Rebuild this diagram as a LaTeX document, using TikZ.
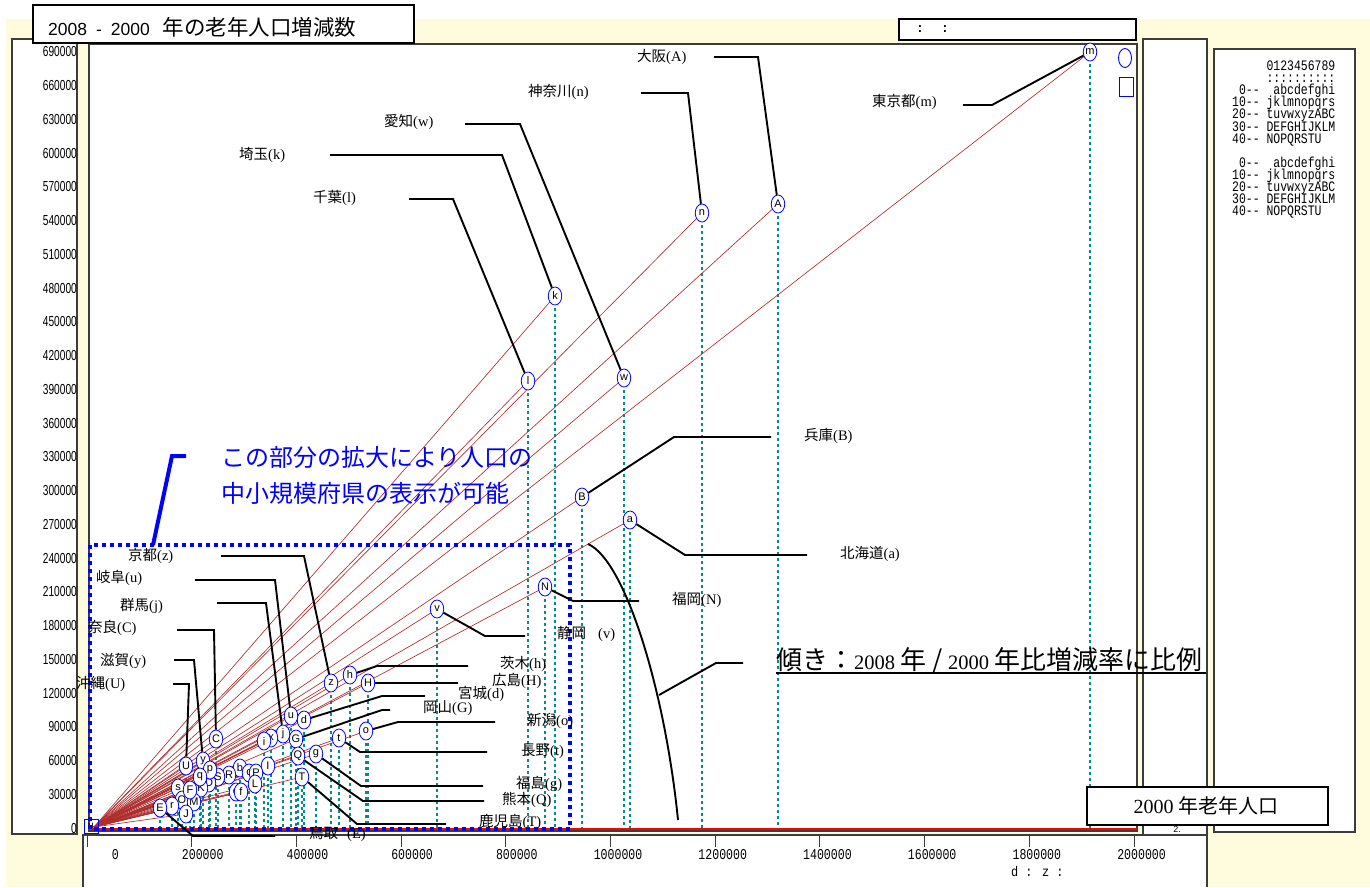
\documentclass[tikz,border=0pt]{standalone}
\usepackage{fontspec}
\setmainfont{Liberation Serif}
\newfontfamily\jp{Noto Sans CJK JP}
\newfontfamily\monof{Liberation Mono}
\newfontfamily\sansf{Liberation Sans}
\usetikzlibrary{shapes.geometric}
\definecolor{bgyel}{RGB}{255,252,222}
\definecolor{rayc}{RGB}{175,45,45}
\definecolor{dropc}{RGB}{0,140,140}
\definecolor{framec}{RGB}{60,60,60}
\newcommand{\pf}[2]{{\jp #1}(#2)}
\newcommand{\nar}[1]{\scalebox{0.77}[1]{#1}}
\newcommand{\ms}{\phantom{0}}
\newcommand{\legblock}[1]{\scalebox{0.79}[1]{\parbox[t]{200pt}{\monof\fontsize{14.5}{12.2}\selectfont\parindent=0pt\parskip=0pt\lineskiplimit=-\maxdimen\lineskip=0pt #1}}}
\def\pts{m/1090/52, A/778/204, n/702/213, k/555/296, w/624/378, l/528/381, B/582/497, a/630/520, N/545/587, v/437/609, z/331/683, h/350/675, H/368/683, u/291/716, d/304/720, j/283/734, x/271/738, i/264/741, G/296/739, C/216/739, U/186/766, y/203/761, I/268/766, b/240/768, c/249/773, P/256/773, R/229/775, S/218/777, D/209/783, K/201/788, p/210/770, q/200/777, L/255/784, e/236/792, f/241/792, s/178/788, O/182/800, M/194/802, J/186/814, F/190/790, r/172/806, E/160/808, Q/298/756, g/316/754, T/302/777, t/339/738, o/366/731}
\begin{document}
\begin{tikzpicture}[x=1pt,y=-1pt,
  panel/.style={fill=white, draw=framec, line width=1.2pt},
  boxb/.style={fill=white, draw=black, line width=1.8pt},
  mk/.style={ellipse, draw=blue, fill=white, line width=0.8pt, minimum width=13.5pt, minimum height=18pt, inner sep=0pt, font=\sansf\fontsize{11}{11}\selectfont},
  lbl/.style={anchor=west, inner sep=0pt, font=\fontsize{14.5}{14.5}\selectfont},
  lead/.style={draw=black, line width=1.9pt},
  ray/.style={draw=rayc, line width=0.65pt},
  drop/.style={draw=dropc, line width=1.1pt, dash pattern=on 3pt off 3pt},
  ylab/.style={anchor=east, inner sep=0pt, font=\sansf\fontsize{14.5}{14.5}\selectfont},
  mono/.style={anchor=west, inner sep=0pt, font=\monof\fontsize{14}{14}\selectfont},
  xlab/.style={anchor=east, inner sep=0pt, font=\monof\fontsize{15}{15}\selectfont},
  bluet/.style={anchor=west, inner sep=0pt, text=blue, font=\jp\fontsize{24}{24}\selectfont}
]
\useasboundingbox (0,0) rectangle (1370,887);
\fill[bgyel] (6,19) rectangle (1370,887);
% panels
\draw[panel] (12,39) rectangle (77,834);
\draw[panel] (89,44) rectangle (1137,831);
\fill[white] (83,835) rectangle (1207,887);
\draw[framec, line width=1.2pt] (83,887) -- (83,835) -- (1207,835) -- (1207,887);
\draw[panel] (1143,39) rectangle (1207,835);
\draw[panel] (1214,49) rectangle (1355,832);
% y labels
\foreach \v [count=\i from 0] in {690000,660000,630000,600000,570000,540000,510000,480000,450000,420000,390000,360000,330000,300000,270000,240000,210000,180000,150000,120000,90000,60000,30000,0}
  {\node[ylab] (yl\i) at (77,{52+\i*33.74}) {\scalebox{0.7}[1]{\v}};}
% x ticks
\foreach \v [count=\k from 0] in {0,200000,400000,600000,800000,1000000,1200000,1400000,1600000,1800000,2000000}
  {\draw[framec, line width=1pt] ({87+\k*104.7},836) -- ({87+\k*104.7},847);
   \node[xlab] (xl\k) at ({119+\k*104.7},855) {\nar{\v}};}
\node[mono] (dz) at (1011,872) {\scalebox{0.85}[1]{d : z :}};
% axis line
\draw[framec, line width=0.8pt] (89,831) -- (1137,831);
\draw[red, line width=1.8pt] (89,829) -- (1137,829);
% legend text
\node[anchor=base west, inner sep=0pt] (lgA) at (1232,70) {\legblock{\ms\ms\ms\ms\ms 0123456789\par \ms\ms\ms\ms\ms ::::::::::\par \ms 0--\ms\ms{}abcdefghi\par 10--\ms{}jklmnopqrs\par 20--\ms{}tuvwxyzABC\par 30--\ms{}DEFGHIJKLM\par 40--\ms{}NOPQRSTU}};
\node[anchor=base west, inner sep=0pt] (lgB) at (1232,167) {\legblock{\ms 0--\ms\ms{}abcdefghi\par 10--\ms{}jklmnopqrs\par 20--\ms{}tuvwxyzABC\par 30--\ms{}DEFGHIJKLM\par 40--\ms{}NOPQRSTU}};
% legend symbols in plot
\node[ellipse, draw=blue, line width=0.9pt, minimum width=13pt, minimum height=19pt, inner sep=0pt] (symE) at (1125,58) {};
\node[draw=blue, line width=0.9pt, minimum width=14pt, minimum height=19pt, inner sep=0pt] (symR) at (1126,87) {};
% data
\coordinate (org) at (94,827);
\coordinate (axl) at (0,828);
\foreach \n/\x/\y in \pts {\coordinate (c\n) at (\x,\y);}
\foreach \n/\x/\y in \pts {\draw[drop] (c\n) -- (c\n |- axl);}
\foreach \n/\x/\y in \pts {\draw[ray] (org) -- (c\n);}
\node[draw=blue, line width=0.8pt, minimum width=14pt, minimum height=14pt, inner sep=0pt, font=\sansf\fontsize{10}{10}\selectfont] (orgm) at (91,826) {u};
\foreach \n/\x/\y in \pts {\node[mk] (\n) at (c\n) {\n};}
% blue zoom box and note
\draw[blue, line width=4pt, dash pattern=on 4pt off 4pt] (90,545) rectangle (570,829);
\draw[blue, line width=4pt] (153,545) -- (172,456) -- (186,456);
\node[bluet] (bt1) at (221,457) {この部分の拡大により人口の};
\node[bluet] (bt2) at (221,493) {中小規模府県の表示が可能};
% labels
\node[lbl] (Lm) at (872,102) {\pf{東京都}{m}};
\node[lbl] (LA) at (637,57) {\pf{大阪}{A}};
\node[lbl] (Ln) at (528,92) {\pf{神奈川}{n}};
\node[lbl] (Lw) at (384,122) {\pf{愛知}{w}};
\node[lbl] (Lk) at (239,155) {\pf{埼玉}{k}};
\node[lbl] (Ll) at (313,198) {\pf{千葉}{l}};
\node[lbl] (LB) at (804,436) {\pf{兵庫}{B}};
\node[lbl] (La) at (840,554) {\pf{北海道}{a}};
\node[lbl] (LN) at (672,600) {\pf{福岡}{N}};
\node[lbl] (Lv) at (557,634) {{\jp 静岡}\hspace{12pt}(v)};
\node[lbl] (Lz) at (128,556) {\pf{京都}{z}};
\node[lbl] (Lu) at (96,578) {\pf{岐阜}{u}};
\node[lbl] (Lj) at (120,606) {\pf{群馬}{j}};
\node[lbl] (LC) at (88,628) {\pf{奈良}{C}};
\node[lbl] (Ly) at (100,661) {\pf{滋賀}{y}};
\node[lbl] (LU) at (76,684) {\pf{沖縄}{U}};
\node[lbl] (Lh) at (500,664) {\pf{茨木}{h}};
\node[lbl] (LH) at (492,681) {\pf{広島}{H}};
\node[lbl] (Ld) at (458,694) {\pf{宮城}{d}};
\node[lbl] (LG) at (423,708) {\pf{岡山}{G}};
\node[lbl] (Lo) at (527,721) {\pf{新潟}{o}};
\node[lbl] (Lt) at (521,751) {\pf{長野}{t}};
\node[lbl] (Lg) at (516,784) {\pf{福島}{g}};
\node[lbl] (LQ) at (502,800) {\pf{熊本}{Q}};
\node[lbl] (LT) at (479,822) {\pf{鹿児島}{T}};
\node[lbl] (LE) at (309,834) {{\jp 鳥取}\hspace{9pt}(E)};
% leaders
\draw[lead] (963,105) -- (992,105) -- (m);
\draw[lead] (714,57) -- (758,57) -- (A);
\draw[lead] (641,93) -- (688,93) -- (n);
\draw[lead] (465,124) -- (520,124) -- (w);
\draw[lead] (330,155) -- (502,155) -- (k);
\draw[lead] (409,199) -- (453,199) -- (l);
\draw[lead] (771,437) -- (674,437) -- (B);
\draw[lead] (807,555) -- (685,555) -- (a);
\draw[lead] (639,601) -- (573,601) -- (N);
\draw[lead] (525,636) -- (485,636) -- (v);
\draw[lead] (221,556) -- (304,556) -- (z);
\draw[lead] (195,580) -- (275,580) -- (u);
\draw[lead] (217,603) -- (266,603) -- (j);
\draw[lead] (177,630) -- (214,630) -- (C);
\draw[lead] (174,660) -- (194,660) -- (y);
\draw[lead] (173,684) -- (189,684) -- (U);
\draw[lead] (468,666) -- (377,666) -- (h);
\draw[lead] (458,683) -- (H);
\draw[lead] (425,696) -- (382,696) -- (d);
\draw[lead] (390,710) -- (382,710) -- (G);
\draw[lead] (495,722) -- (398,722) -- (o);
\draw[lead] (487,752) -- (360,752) -- (t);
\draw[lead] (483,786) -- (361,786) -- (g);
\draw[lead] (484,801) -- (363,801) -- (Q);
\draw[lead] (446,824) -- (357,824) -- (T);
\draw[lead] (275,836) -- (193,836) -- (E);
% slope note
\draw[lead] (588,544) .. controls (625,560) and (665,690) .. (678,820);
\coordinate (cv) at (659,695);
\draw[lead] (743,663) -- (716,663) -- (cv);
\node[anchor=west, inner sep=0pt] (slope) at (776,661) {{\jp\fontsize{26}{26}\selectfont 傾き：}{\fontsize{20.5}{20.5}\selectfont 2008 }{\jp\fontsize{26}{26}\selectfont 年 / }{\fontsize{20.5}{20.5}\selectfont 2000 }{\jp\fontsize{26}{26}\selectfont 年比増減率に比例}};
\draw[black, line width=1.5pt] (776,673) -- (1206,673);
% boxes on top
\node[font=\sansf\fontsize{9}{9}\selectfont, inner sep=0pt] (two) at (1177,829) {2.};
\draw[boxb] (33,5) rectangle (414,43);
\node[anchor=west, inner sep=0pt] (title) at (48,27) {{\sansf\fontsize{17.5}{17.5}\selectfont 2008\hspace{9pt}-\hspace{9pt}2000\hspace{13pt}}{\jp\fontsize{21.5}{21.5}\selectfont 年の老年人口増減数}};
\draw[boxb] (899,19) rectangle (1136,40);
\node[anchor=west, inner sep=0pt, font=\monof\bfseries\fontsize{13}{13}\selectfont] (dots) at (916,29) {:\hspace{17pt}:};
\draw[boxb] (1087,787) rectangle (1328,825);
\node[inner sep=0pt] (base) at (1206,806) {{\fontsize{20}{20}\selectfont 2000 }{\jp\fontsize{20}{20}\selectfont 年老年人口}};
\end{tikzpicture}
\end{document}
